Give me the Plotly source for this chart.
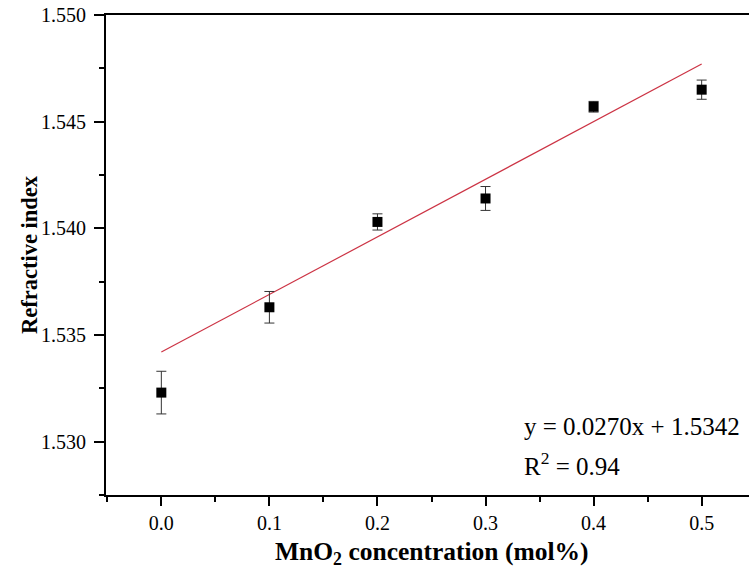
import plotly.graph_objects as go

conc = [0.0, 0.1, 0.2, 0.3, 0.4, 0.5]
ref_index = [1.5323, 1.5363, 1.5403, 1.5414, 1.5457, 1.5465]
err = [0.0010, 0.00074, 0.00038, 0.00056, 0.00025, 0.00045]

slope = 0.0270
intercept = 1.5342
fit_x = [0.0, 0.5]
fit_y = [intercept + slope * v for v in fit_x]

x_ticks = [0.0, 0.1, 0.2, 0.3, 0.4, 0.5]
x_ticklabels = ["0.0", "0.1", "0.2", "0.3", "0.4", "0.5"]
y_ticks = [1.530, 1.535, 1.540, 1.545, 1.550]
y_ticklabels = ["1.530", "1.535", "1.540", "1.545", "1.550"]

font_family = "Liberation Serif, Times New Roman, serif"

fig = go.Figure()
fig.add_trace(go.Scatter(
    x=fit_x, y=fit_y, mode="lines",
    line=dict(color="#cc3344", width=1.2),
    showlegend=False, hoverinfo="skip"))
fig.add_trace(go.Scatter(
    x=conc, y=ref_index, mode="markers",
    marker=dict(symbol="square", size=10, color="black"),
    error_y=dict(type="data", array=err, visible=True,
                 color="#333333", thickness=1, width=5),
    showlegend=False))

# equation annotations
fig.add_annotation(x=0.647, y=0.1427, xref="paper", yref="paper",
                   xanchor="left", yanchor="middle", showarrow=False,
                   text="y = 0.0270x + 1.5342",
                   font=dict(family=font_family, size=25, color="black"))
fig.add_annotation(x=0.647, y=0.0655, xref="paper", yref="paper",
                   xanchor="left", yanchor="middle", showarrow=False,
                   text="R<sup>2</sup> = 0.94",
                   font=dict(family=font_family, size=25, color="black"))

# axis titles
fig.add_annotation(x=0.506, y=0, xref="paper", yref="paper",
                   xanchor="center", yanchor="middle", yshift=-58,
                   showarrow=False,
                   text="<b>MnO<sub>2</sub> concentration (mol%)</b>",
                   font=dict(family=font_family, size=25.5, color="black"))
fig.add_annotation(x=0, y=0.5, xref="paper", yref="paper",
                   xanchor="center", yanchor="middle", xshift=-77,
                   textangle=-90, showarrow=False,
                   text="<b>Refractive index</b>",
                   font=dict(family=font_family, size=22.5, color="black"))

fig.update_layout(
    width=749, height=576,
    margin=dict(l=106, r=0, t=15, b=81),
    paper_bgcolor="white", plot_bgcolor="white",
    font=dict(family=font_family, size=20, color="black"),
    xaxis=dict(
        range=[-0.0512, 0.5438], automargin=False,
        tickvals=x_ticks, ticktext=x_ticklabels,
        ticks="outside", ticklen=9, tickwidth=2, tickcolor="black",
        showline=True, linewidth=2, linecolor="black", mirror=True,
        showgrid=False, zeroline=False,
        minor=dict(ticks="outside", ticklen=5, tickwidth=2, tickcolor="black",
                   tick0=-0.05, dtick=0.1, showgrid=False),
        tickfont=dict(family=font_family, size=20),
    ),
    yaxis=dict(
        range=[1.5275, 1.5500], automargin=False,
        tickvals=y_ticks, ticktext=y_ticklabels,
        ticks="outside", ticklen=10, tickwidth=2, tickcolor="black",
        showline=True, linewidth=2, linecolor="black", mirror=False,
        showgrid=False, zeroline=False,
        ticklabelstandoff=4,
        minor=dict(ticks="outside", ticklen=5, tickwidth=2, tickcolor="black",
                   tick0=1.5275, dtick=0.005, showgrid=False),
        tickfont=dict(family=font_family, size=20),
    ),
)

# remove the browser's default page margin so the figure fills the window
fig.write_html(
    "out.html",
    config={"displayModeBar": False},
    post_script="document.body.style.margin='0';document.body.style.overflow='hidden';",
)
